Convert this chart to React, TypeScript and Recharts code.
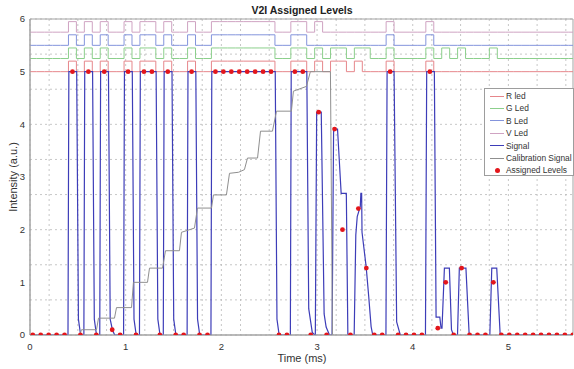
import React from 'react';
import { ComposedChart, Line, Scatter, XAxis, YAxis, CartesianGrid, ReferenceArea } from 'recharts';

const X_MAX = 5.675;
const xTicks = [0, 1, 2, 3, 4, 5];
const yTicks = [0, 1, 2, 3, 4, 5, 6];

// symbol centre times (ms)
const symbolTimes = [
  0.029, 0.112, 0.195, 0.278, 0.361, 0.444, 0.527, 0.610, 0.693, 0.776,
  0.859, 0.942, 1.025, 1.108, 1.191, 1.274, 1.357, 1.440, 1.523, 1.606,
  1.689, 1.772, 1.855, 1.938, 2.021, 2.104, 2.187, 2.270, 2.353, 2.436,
  2.519, 2.602, 2.685, 2.768, 2.851, 2.934, 3.017, 3.100, 3.183, 3.266,
  3.349, 3.432, 3.515, 3.598, 3.681, 3.764, 3.847, 3.930, 4.013, 4.096,
  4.179, 4.262, 4.345, 4.428, 4.511, 4.594, 4.677, 4.760, 4.843, 4.926,
  5.009, 5.092, 5.175, 5.258, 5.341, 5.424, 5.507, 5.590, 5.673,
];

const assignedLevels = [
  0, 0, 0, 0, 0, 5, 0, 5, 0, 5,
  0.1, 0, 5, 0, 5, 5, 0, 5, 0, 0,
  5, 0, 0, 5, 5, 5, 5, 5, 5, 5,
  5, 0, 0, 5, 5, 0, 4.23, 0, 3.91, 2.0,
  0, 2.4, 1.27, 0, 0, 5, 0, 0, 0, 0,
  5, 0.13, 1.0, 0, 1.27, 0, 0, 0, 1.0, 0,
  0, 0, 0, 0, 0, 0, 0, 0, 0,
];

// LED on/off state per symbol
const ledR = [
  0, 0, 0, 0, 0, 1, 0, 1, 0, 1,
  0, 0, 1, 0, 1, 1, 0, 1, 0, 0,
  1, 0, 0, 1, 1, 1, 1, 1, 1, 1,
  1, 0, 0, 1, 1, 0, 1, 0, 1, 1,
  0, 1, 0, 0, 0, 1, 0, 0, 0, 0,
  1, 0, 0, 0, 0, 0, 0, 0, 0, 0,
  0, 0, 0, 0, 0, 0, 0, 0, 0,
];
const ledG = [
  0, 0, 0, 0, 0, 1, 0, 1, 0, 1,
  0, 0, 1, 0, 1, 1, 0, 1, 0, 0,
  1, 0, 0, 1, 1, 1, 1, 1, 1, 1,
  1, 0, 0, 1, 1, 0, 1, 0, 1, 1,
  0, 1, 1, 0, 0, 1, 0, 0, 0, 0,
  1, 0, 1, 0, 1, 0, 0, 0, 1, 0,
  0, 0, 0, 0, 0, 0, 0, 0, 0,
];
const ledB = [
  0, 0, 0, 0, 0, 1, 0, 1, 0, 1,
  0, 0, 1, 0, 1, 1, 0, 1, 0, 0,
  1, 0, 0, 1, 1, 1, 1, 1, 1, 1,
  1, 0, 0, 1, 1, 0, 0, 0, 0, 0,
  0, 0, 0, 0, 0, 1, 0, 0, 0, 0,
  1, 0, 0, 0, 0, 0, 0, 0, 0, 0,
  0, 0, 0, 0, 0, 0, 0, 0, 0,
];
const ledV = [
  0, 0, 0, 0, 0, 1, 0, 1, 0, 1,
  0, 0, 1, 0, 1, 1, 0, 1, 0, 0,
  1, 0, 0, 1, 1, 1, 1, 1, 1, 1,
  1, 0, 0, 1, 1, 0, 1, 0, 0, 0,
  0, 0, 0, 0, 0, 1, 0, 0, 0, 0,
  1, 0, 0, 0, 0, 0, 0, 0, 0, 0,
  0, 0, 0, 0, 0, 0, 0, 0, 0,
];

// received signal vertices [time ms, intensity]
const signalPoints: [number, number][] = [
  [0, 0],
  [0.397, 0], [0.406, 5], [0.488, 5], [0.506, 0.3], [0.529, 0],
  [0.563, 0], [0.572, 5], [0.654, 5], [0.672, 0.3], [0.695, 0],
  [0.729, 0], [0.738, 5], [0.820, 5], [0.838, 0.3], [0.861, 0.1], [0.885, 0],
  [0.978, 0], [0.987, 5], [1.069, 5], [1.087, 0.3], [1.110, 0],
  [1.144, 0], [1.153, 5], [1.318, 5], [1.336, 0.3], [1.359, 0],
  [1.393, 0], [1.402, 5], [1.484, 5], [1.502, 0.3], [1.525, 0],
  [1.642, 0], [1.651, 5], [1.733, 5], [1.751, 0.3], [1.774, 0],
  [1.891, 0], [1.900, 5], [2.563, 5], [2.581, 0.3], [2.604, 0],
  [2.721, 0], [2.730, 5], [2.893, 5], [2.913, 0.5], [2.950, 0.05], [2.975, 0],
  [2.982, 0], [2.996, 4.23], [3.044, 4.23], [3.074, 0.4], [3.095, 0.15], [3.130, 0],
  [3.157, 0], [3.173, 3.91], [3.214, 3.91], [3.252, 2.69], [3.306, 2.69], [3.322, 0],
  [3.388, 0], [3.405, 1.9], [3.420, 2.25], [3.452, 2.44], [3.458, 2.69], [3.466, 2.69],
  [3.470, 1.95], [3.513, 1.3], [3.540, 0.73], [3.565, 0.16], [3.582, 0],
  [3.720, 0], [3.732, 5], [3.805, 5], [3.832, 0.25], [3.870, 0],
  [4.133, 0], [4.146, 5], [4.226, 5], [4.244, 0.34], [4.283, 0.34], [4.296, 0.13],
  [4.306, 0.13], [4.331, 1.27], [4.383, 1.27], [4.405, 0.1], [4.425, 0],
  [4.468, 0], [4.487, 1.27], [4.556, 1.27], [4.590, 0],
  [4.806, 0], [4.826, 1.27], [4.878, 1.27], [4.914, 0],
  [5.675, 0],
];

// calibration staircase vertices [time ms, intensity]
const calibrationPoints: [number, number][] = [
  [0.50, 0], [0.520, 0], [0.538, 0.1], [0.695, 0.1], [0.716, 0.32], [0.883, 0.32],
  [0.904, 0.52], [1.061, 0.52], [1.081, 1.0], [1.228, 1.0], [1.249, 1.27], [1.385, 1.27],
  [1.416, 1.6], [1.562, 1.6], [1.583, 1.95], [1.719, 2.03], [1.750, 2.41], [1.897, 2.41],
  [1.917, 2.66], [2.053, 2.66], [2.085, 3.07], [2.180, 3.09], [2.241, 3.14], [2.273, 3.36],
  [2.378, 3.36], [2.409, 3.87], [2.534, 3.87], [2.576, 4.25], [2.732, 4.25], [2.753, 4.63],
  [2.889, 4.72], [2.930, 5.0], [3.140, 5.0], [3.161, 0], [3.175, 0],
];

const LED_ON = 0.2;
const HALF_SYMBOL = 0.042;

const R_COLOR = '#e6868b';
const G_COLOR = '#8ccf8c';
const B_COLOR = '#8494dc';
const V_COLOR = '#cfa3c2';
const SIGNAL_COLOR = '#3d3db8';
const CAL_COLOR = '#8f8f8f';
const DOT_COLOR = '#e3161b';
const FONT = '"Liberation Sans", Arial, Helvetica, sans-serif';

const toPts = (arr: [number, number][]) => arr.map(([t, v]) => ({ t, v }));
const ledSeries = (states: number[], base: number) => {
  const pts = symbolTimes.map((t, i) => ({ t: Math.max(0, t - HALF_SYMBOL), v: base + LED_ON * states[i] }));
  pts.push({ t: X_MAX, v: base + LED_ON * states[states.length - 1] });
  return pts;
};

const rData = ledSeries(ledR, 5.0);
const gData = ledSeries(ledG, 5.25);
const bData = ledSeries(ledB, 5.5);
const vData = ledSeries(ledV, 5.75);
const signalData = toPts(signalPoints);
const calData = toPts(calibrationPoints);
const dotData = symbolTimes.map((t, i) => ({ t, v: assignedLevels[i] }));

const gridX = Array.from({ length: 57 }, (_, i) => i / 10);
const gridY = Array.from({ length: 19 }, (_, i) => i / 3);

const legendItems = [
  { label: 'R led', color: R_COLOR, dot: false },
  { label: 'G Led', color: G_COLOR, dot: false },
  { label: 'B Led', color: B_COLOR, dot: false },
  { label: 'V Led', color: V_COLOR, dot: false },
  { label: 'Signal', color: SIGNAL_COLOR, dot: false },
  { label: 'Calibration Signal', color: CAL_COLOR, dot: false },
  { label: 'Assigned Levels', color: DOT_COLOR, dot: true },
];

const Dot = (props: any) => {
  const { cx, cy } = props;
  if (cx == null || cy == null) return null;
  return <circle cx={cx} cy={cy} r={2.4} fill={DOT_COLOR} />;
};

export default function App() {
  return (
    <div style={{ position: 'absolute', left: 0, top: 0, width: 574, height: 369, overflow: 'hidden', background: '#fff', fontFamily: FONT }}>
      <ComposedChart width={574} height={369} margin={{ top: 19, right: 1, bottom: 4, left: 0 }}>
        <CartesianGrid
          verticalValues={gridX}
          horizontalValues={gridY}
          stroke="#b9b9b9"
          strokeDasharray="2 3"
          strokeWidth={0.8}
        />
        <XAxis
          type="number"
          dataKey="t"
          domain={[0, X_MAX]}
          ticks={xTicks}
          allowDataOverflow
          height={30}
          tickLine={false}
          tickSize={4}
          tickMargin={4}
          axisLine={{ stroke: '#a3a3a3' }}
          tick={{ fontSize: 9.5, fill: '#333', fontFamily: FONT }}
        />
        <YAxis
          type="number"
          dataKey="v"
          domain={[0, 6]}
          ticks={yTicks}
          allowDataOverflow
          width={30}
          tickLine={false}
          tickSize={2}
          tickMargin={3}
          axisLine={{ stroke: '#a3a3a3' }}
          tick={{ fontSize: 9.5, fill: '#333', fontFamily: FONT }}
        />
        <ReferenceArea x1={0} x2={X_MAX} y1={0} y2={6} fill="none" fillOpacity={0} stroke="#a3a3a3" strokeWidth={1} ifOverflow="extendDomain" />
        <Line data={rData} dataKey="v" type="stepAfter" stroke={R_COLOR} strokeWidth={1} dot={false} isAnimationActive={false} />
        <Line data={gData} dataKey="v" type="stepAfter" stroke={G_COLOR} strokeWidth={1} dot={false} isAnimationActive={false} />
        <Line data={bData} dataKey="v" type="stepAfter" stroke={B_COLOR} strokeWidth={1} dot={false} isAnimationActive={false} />
        <Line data={vData} dataKey="v" type="stepAfter" stroke={V_COLOR} strokeWidth={1} dot={false} isAnimationActive={false} />
        <Line data={signalData} dataKey="v" type="linear" stroke={SIGNAL_COLOR} strokeWidth={1.2} dot={false} isAnimationActive={false} />
        <Line data={calData} dataKey="v" type="linear" stroke={CAL_COLOR} strokeWidth={1} dot={false} isAnimationActive={false} />
        <Scatter data={dotData} dataKey="v" shape={<Dot />} isAnimationActive={false} />
      </ComposedChart>

      <div style={{ position: 'absolute', left: 302, top: 9.5, transform: 'translate(-50%, -50%)', fontSize: 10.5, fontWeight: 'bold', color: '#222', whiteSpace: 'nowrap' }}>
        V2I Assigned Levels
      </div>
      <div style={{ position: 'absolute', left: 302, top: 358, transform: 'translate(-50%, -50%)', fontSize: 11, color: '#333', whiteSpace: 'nowrap' }}>
        Time (ms)
      </div>
      <div style={{ position: 'absolute', left: 13, top: 177, transform: 'translate(-50%, -50%) rotate(-90deg)', fontSize: 11, color: '#333', whiteSpace: 'nowrap' }}>
        Intensity (a.u.)
      </div>

      <div style={{ position: 'absolute', left: 484, top: 88, width: 90, height: 88, border: '1px solid #9d9d9d', background: '#fff', boxSizing: 'border-box' }}>
        {legendItems.map((it, i) => (
          <div key={it.label} style={{ position: 'absolute', left: 0, top: 1 + 12.4 * i, height: 12, width: 90, display: 'flex', alignItems: 'center' }}>
            <div style={{ width: 18, display: 'flex', justifyContent: 'center', alignItems: 'center', marginLeft: 3 }}>
              {it.dot ? (
                <div style={{ width: 5, height: 5, borderRadius: '50%', background: it.color }} />
              ) : (
                <div style={{ width: 14, height: it.label === 'Signal' ? 1.3 : 1, background: it.color }} />
              )}
            </div>
            <span style={{ fontSize: 8.4, color: '#333', whiteSpace: 'nowrap', marginLeft: 0 }}>{it.label}</span>
          </div>
        ))}
      </div>
    </div>
  );
}
